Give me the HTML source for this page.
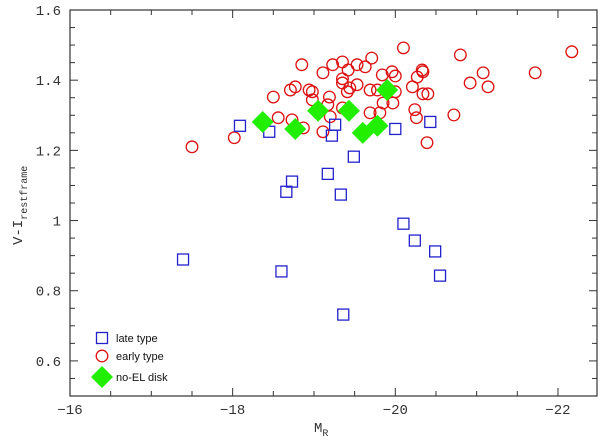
<!DOCTYPE html>
<html><head><meta charset="utf-8"><style>
body{margin:0;background:#fff}
svg{display:block}
text{font-family:"Liberation Mono",monospace;fill:#333}
.lg{font-family:"Liberation Sans",sans-serif;font-size:11px;fill:#111}
</style></head><body>
<svg id="chart" width="600" height="441" viewBox="0 0 600 441" xmlns="http://www.w3.org/2000/svg">
<g id="axes"></g>
<g id="marks"></g>
<g id="legend">
 <rect x="96.5" y="332.5" width="11" height="11" fill="none" stroke="#2222cc" stroke-width="1.3"/>
 <text class="lg" x="116" y="342">late type</text>
 <circle cx="102" cy="356" r="5.8" fill="none" stroke="#dd1111" stroke-width="1.3"/>
 <text class="lg" x="116" y="360">early type</text>
 <polygon points="102,366 113,377 102,388 91,377" fill="#22ee00"/>
 <text class="lg" x="116" y="381">no-EL disk</text>
</g>
<text x="314" y="432" font-size="14">M<tspan font-size="10" dy="4">R</tspan></text>
<text transform="translate(22,245) rotate(-90)" font-size="14">V-I<tspan font-size="10" dy="5">restframe</tspan></text>
</svg>
<script>
const lateX=[-18.09,-18.45,-19.26,-19.22,-19.49,-20.00,-20.43,-19.17,-18.73,-18.66,-19.33,-20.10,-20.24,-20.49,-20.55,-18.60,-19.36,-17.39];
const lateY=[1.27,1.253,1.273,1.242,1.182,1.261,1.281,1.133,1.111,1.082,1.074,0.991,0.943,0.912,0.843,0.855,0.732,0.889];
const earlyX=[-17.50,-18.02,-18.50,-18.56,-18.73,-18.87,-18.85,-18.71,-18.77,-18.94,-18.98,-18.98,-19.11,-19.19,-19.17,-19.20,-19.23,-19.35,-19.35,-19.35,-19.35,-19.11,-19.42,-19.53,-19.63,-19.71,-19.41,-19.44,-19.53,-19.69,-19.78,-19.69,-19.81,-19.84,-19.96,-20.00,-20.10,-20.00,-19.97,-19.85,-20.21,-20.27,-20.33,-20.34,-20.34,-20.40,-20.24,-20.26,-20.39,-20.72,-20.80,-20.92,-21.08,-21.14,-21.72,-22.17];
const earlyY=[1.210,1.236,1.352,1.293,1.287,1.264,1.444,1.372,1.381,1.372,1.367,1.344,1.421,1.352,1.330,1.296,1.444,1.452,1.404,1.392,1.321,1.253,1.429,1.444,1.438,1.463,1.367,1.378,1.387,1.372,1.372,1.307,1.307,1.415,1.424,1.412,1.492,1.367,1.335,1.335,1.381,1.409,1.429,1.424,1.361,1.361,1.316,1.293,1.222,1.301,1.472,1.392,1.421,1.381,1.421,1.481];
const diskX=[-18.37,-18.77,-19.05,-19.43,-19.90,-19.60,-19.78];
const diskY=[1.281,1.261,1.313,1.313,1.372,1.250,1.270];
const xTickLabels=["-16","-18","-20","-22"];
const yTickLabels=["0.6","0.8","1","1.2","1.4","1.6"];

const L=70,R=597,T=10,B=396,XMIN=-16,XMAX=-22.48,YMIN=0.5,YMAX=1.6;
function sx(v){return L+(v-XMIN)/(XMAX-XMIN)*(R-L);}
function sy(v){return B-(v-YMIN)/(YMAX-YMIN)*(B-T);}
const NS="http://www.w3.org/2000/svg";
function mk(tag,attrs,parent){const e=document.createElementNS(NS,tag);for(const k in attrs)e.setAttribute(k,attrs[k]);parent.appendChild(e);return e;}
const axes=document.getElementById('axes'),marks=document.getElementById('marks');
const frame=mk('rect',{x:L,y:T,width:R-L,height:B-T,fill:'none',stroke:'#333','stroke-width':1.2},axes);


// x ticks
for(let i=0;i<=12;i++){const v=-16-0.5*i;const x=sx(v);if(x>R)break;const len=(i%4===0)?8:5;
 const t1=mk('line',{x1:x,x2:x,y1:B,y2:B-len,stroke:'#333'},axes);
 
 
 const t2=mk('line',{x1:x,x2:x,y1:T,y2:T+len,stroke:'#333'},axes);
 
 }
xTickLabels.forEach(s=>{const v=parseFloat(s);const t=mk('text',{x:sx(v),y:414,'text-anchor':'middle','font-size':14},axes);t.textContent=s.replace('-','\u2212');
 
 });
// y ticks
for(let i=0;i<=22;i++){const v=0.5+0.05*i;const y=sy(v);const major=(Math.round(v*100)%20===0);const len=major?8:5;
 const t1=mk('line',{x1:L,x2:L+len,y1:y,y2:y,stroke:'#333'},axes);
 
 
 const t2=mk('line',{x1:R,x2:R-len,y1:y,y2:y,stroke:'#333'},axes);
 
 }
yTickLabels.forEach(s=>{const v=parseFloat(s);const t=mk('text',{x:61,y:sy(v)+5,'text-anchor':'end','font-size':14},axes);t.textContent=s;
 
 });
// marks
earlyX.forEach((v,i)=>{const c=mk('circle',{cx:sx(v),cy:sy(earlyY[i]),r:5.8,fill:'none',stroke:'#dd1111','stroke-width':1.3},marks);
 
 });
lateX.forEach((v,i)=>{const x=sx(v),y=sy(lateY[i]);const r=mk('rect',{x:x-5.5,y:y-5.5,width:11,height:11,fill:'none',stroke:'#2222cc','stroke-width':1.3},marks);
 
 });
diskX.forEach((v,i)=>{const x=sx(v),y=sy(diskY[i]);const p=mk('polygon',{points:`${x},${y-11} ${x+11},${y} ${x},${y+11} ${x-11},${y}`,fill:'#22ee00'},marks);
 
 });
</script>
</body></html>
